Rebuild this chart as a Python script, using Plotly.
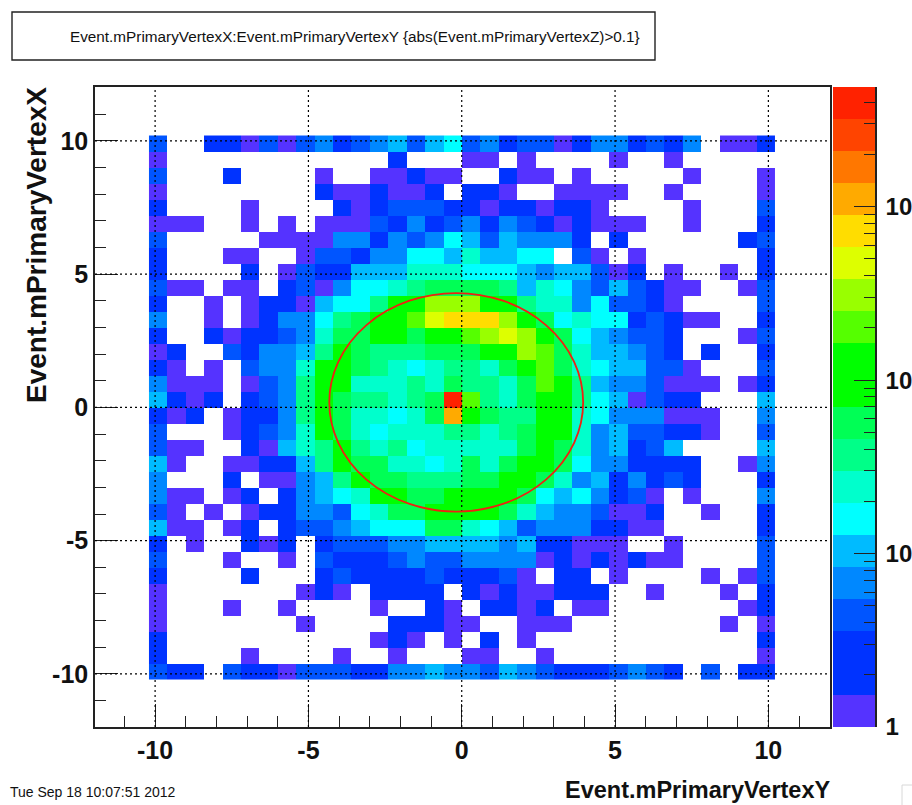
import numpy as np
import plotly.graph_objects as go

W, H = 912, 805

title_text = "Event.mPrimaryVertexX:Event.mPrimaryVertexY {abs(Event.mPrimaryVertexZ)>0.1}"
x_title = "Event.mPrimaryVertexY"
y_title = "Event.mPrimaryVertexX"
date_text = "Tue Sep 18 10:07:51 2012"

major_ticks = [-10, -5, 0, 5, 10]
major_labels = ["-10", "-5", "0", "5", "10"]
minor_ticks = [-11, -9, -8, -7, -6, -4, -3, -2, -1, 1, 2, 3, 4, 6, 7, 8, 9, 11]

bin_low, bin_width, n_bins = -10.2, 0.6, 34

# counts per cell, top row (y = +9.9) first, left column (x = -9.9) first; 0 = empty
counts = [
    [4,0,0,3,3,1,4,1,4,7,3,4,7,10,4,10,16,4,7,3,4,4,1,3,7,7,3,4,3,7,0,1,1,3],
    [1,0,0,0,0,0,0,0,0,0,0,0,0,3,0,0,0,1,1,0,1,0,0,0,0,1,0,0,1,0,0,0,0,0],
    [4,0,0,0,3,0,0,0,0,1,0,0,1,1,3,1,1,0,0,3,1,1,0,1,0,0,0,0,0,1,0,0,0,1],
    [1,0,0,0,0,0,0,0,0,3,1,1,3,1,1,3,0,3,3,1,0,0,1,1,1,1,0,0,1,0,0,0,0,1],
    [3,0,0,0,0,1,0,0,0,0,3,1,3,4,4,4,3,3,1,3,3,1,3,3,1,0,0,0,0,1,0,0,0,4],
    [1,1,1,0,0,1,0,1,0,1,1,1,4,3,7,3,4,7,3,7,4,3,1,3,1,1,1,0,0,1,0,0,0,3],
    [4,0,0,0,0,0,1,1,1,1,7,7,3,7,4,7,16,10,4,10,7,7,7,3,0,3,0,0,0,0,0,0,3,4],
    [3,0,0,0,1,1,0,0,1,4,4,3,7,7,16,16,10,25,10,10,16,16,0,4,1,0,1,0,0,0,0,0,0,3],
    [3,0,0,0,0,3,0,1,4,3,3,10,10,10,25,25,25,16,16,16,10,7,10,10,4,1,3,0,1,0,0,1,0,3],
    [4,1,1,0,1,1,0,3,4,1,7,16,16,25,38,58,58,58,58,38,10,25,16,7,4,10,4,3,1,1,0,0,1,4],
    [3,0,0,1,0,1,3,3,1,10,16,16,38,100,100,315,315,315,100,100,38,25,25,7,16,4,4,3,1,0,0,0,0,4],
    [7,0,0,1,0,1,3,7,7,16,38,58,100,100,205,480,735,735,735,315,100,58,16,25,16,16,3,4,3,1,1,0,0,3],
    [3,0,0,3,1,3,3,4,7,25,58,58,100,100,58,100,100,205,315,480,315,100,58,16,10,7,4,4,3,0,0,0,1,4],
    [1,3,0,0,4,3,7,7,10,38,100,58,38,38,38,58,58,58,100,100,315,205,58,25,10,10,7,4,3,0,3,0,0,3],
    [3,1,0,1,0,4,7,7,25,100,100,58,38,25,16,25,38,38,25,58,100,205,58,25,16,10,10,4,4,1,0,0,0,4],
    [7,1,1,1,0,1,4,7,38,100,100,25,25,25,38,25,58,38,38,25,58,205,100,38,10,7,7,4,1,1,1,0,1,3],
    [10,3,1,3,0,3,4,7,38,100,58,38,38,25,38,58,4050,205,38,25,58,100,100,38,16,10,1,4,3,3,0,0,0,10],
    [3,1,3,0,1,3,3,7,38,100,58,25,25,16,25,58,1130,100,58,38,38,100,100,25,16,7,7,7,1,1,1,0,0,7],
    [4,0,0,0,1,3,4,7,25,100,58,25,16,25,25,25,38,38,25,38,58,100,100,25,7,10,4,4,3,3,1,0,0,4],
    [4,1,1,0,0,3,1,10,25,38,100,38,25,38,16,25,25,25,25,25,58,100,58,25,7,10,3,4,10,0,0,0,0,10],
    [10,1,0,0,1,1,3,3,10,38,100,58,58,25,25,16,25,58,25,58,100,100,58,16,7,7,3,3,3,3,0,0,1,7],
    [7,0,0,0,3,0,1,1,7,10,38,100,58,58,38,38,38,58,58,100,100,58,25,7,10,3,7,3,4,3,0,0,0,3],
    [7,1,1,0,1,3,0,3,7,10,16,25,100,100,58,58,100,100,100,100,58,16,10,16,7,3,4,1,0,1,0,0,0,7],
    [4,1,0,1,0,1,3,3,7,7,4,16,25,58,58,100,100,100,100,58,25,10,7,7,4,1,1,3,0,0,1,0,0,3],
    [10,1,1,0,1,3,0,3,4,4,7,10,16,16,16,58,58,25,16,10,4,7,7,7,3,3,1,1,0,0,0,0,0,3],
    [3,0,1,0,0,3,1,3,0,3,4,4,4,7,7,10,10,10,10,7,10,3,3,1,1,1,0,0,1,0,0,0,0,4],
    [4,0,0,0,1,0,0,1,0,4,3,3,3,4,7,4,4,7,7,7,7,1,3,1,3,1,3,1,1,0,0,0,0,4],
    [3,0,0,0,0,3,0,0,0,3,4,3,3,3,3,4,3,3,3,4,1,0,3,3,0,1,0,0,0,0,1,0,1,4],
    [1,0,0,0,0,0,0,0,1,3,1,0,3,3,3,3,0,3,1,3,1,1,3,3,3,0,0,1,0,0,0,1,0,3],
    [1,0,0,0,1,0,0,1,0,0,0,0,1,0,0,3,1,0,3,3,1,3,0,1,1,0,0,0,0,0,0,0,1,3],
    [1,0,0,0,0,0,0,0,1,0,0,0,0,3,3,3,1,1,0,0,1,1,1,0,0,0,0,0,0,0,0,1,0,1],
    [3,0,0,0,0,0,0,0,0,0,0,0,1,3,1,0,1,0,3,0,1,0,0,0,0,0,0,0,0,0,0,0,0,3],
    [3,0,0,0,0,1,0,0,0,0,1,0,0,1,0,0,0,1,1,0,0,1,0,0,0,0,0,0,0,0,0,0,0,1],
    [4,3,3,0,4,3,3,1,4,4,4,3,3,7,7,10,7,7,4,10,7,4,3,3,3,4,7,4,3,0,4,0,3,3],
]
assert len(counts) == n_bins and all(len(r) == n_bins for r in counts)

band_colors = [
    "#5533ff", "#0033ff", "#0033ff", "#0055ff", "#0088ff", "#00bbff", "#00ffff",
    "#00ffcc", "#00ff88", "#00ff55", "#00ff00", "#00ff00", "#55ff00", "#99ff00",
    "#ddff00", "#ffdd00", "#ffaa00", "#ff7700", "#ff4400", "#ff2200",
]
log_max = 3.69
decades = [0, 1, 2, 3]
decade_labels = ["1", "10", "10", "10"]
minor_mult = [2, 3, 4, 5, 6, 7, 8, 9]

ellipse_center = (-0.18, 0.19)
ellipse_radius = (4.14, 4.10)

# --- derived ---
n_bands = len(band_colors)
colorscale = []
for i, c in enumerate(band_colors):
    colorscale += [[i / n_bands, c], [(i + 1) / n_bands, c]]

edges = [bin_low + bin_width * i for i in range(n_bins + 1)]
z = np.array(counts, dtype=float)
z[z == 0] = np.nan
z = np.log10(z)[::-1]

band_edges = [log_max * i / n_bands for i in range(n_bands + 1)]
band_mid = [[(band_edges[i] + band_edges[i + 1]) / 2] for i in range(n_bands)]
cb_minor = [d + np.log10(m) for d in decades for m in minor_mult
            if d + np.log10(m) < log_max]

L, R, T, B = 95, 830, 87, 727
CL, CR = 833, 875
AXC = "#222222"
FONT = "Liberation Sans"

def px(v): return v / W
def py(v): return 1 - v / H

fig = go.Figure()
fig.add_trace(go.Heatmap(
    x=edges, y=edges, z=z, zmin=0, zmax=log_max, colorscale=colorscale,
    showscale=False, xaxis="x", yaxis="y", hoverongaps=False, hoverinfo="skip"))
fig.add_trace(go.Heatmap(
    x=[0, 1], y=band_edges, z=band_mid, zmin=0, zmax=log_max, colorscale=colorscale,
    showscale=False, xaxis="x2", yaxis="y2", hoverinfo="skip"))

shapes = []
grid = dict(color="black", width=1.2, dash="2px,3px")
for t in major_ticks:
    shapes.append(dict(type="line", xref="x", yref="paper", x0=t, x1=t,
                       y0=py(B), y1=py(T), line=grid, layer="above"))
    shapes.append(dict(type="line", xref="paper", yref="y", x0=px(L), x1=px(R),
                       y0=t, y1=t, line=grid, layer="above"))
shapes.append(dict(type="circle", xref="x", yref="y",
                   x0=ellipse_center[0] - ellipse_radius[0],
                   x1=ellipse_center[0] + ellipse_radius[0],
                   y0=ellipse_center[1] - ellipse_radius[1],
                   y1=ellipse_center[1] + ellipse_radius[1],
                   line=dict(color="#ee2211", width=1.8), layer="above"))
# title box
shapes.append(dict(type="rect", xref="paper", yref="paper",
                   x0=px(12), x1=px(655), y0=py(60), y1=py(12),
                   line=dict(color="#222222", width=1.4)))
# resize grip in the corner
shapes.append(dict(type="rect", xref="paper", yref="paper",
                   x0=px(902), x1=px(914), y0=py(807), y1=py(785),
                   line=dict(color="#d8d8d8", width=1)))

def axis_common(**kw):
    d = dict(showgrid=False, zeroline=False, showline=True, linecolor=AXC, linewidth=1.5,
             ticks="inside", tickcolor=AXC, tickwidth=1)
    d.update(kw)
    return d

tickfont = dict(family=FONT, size=25, color="#111111", weight="bold")
cbfont = dict(family=FONT, size=24, color="#111111", weight="bold")
minor = dict(tickmode="array", tickvals=minor_ticks, ticks="inside", ticklen=11,
             tickcolor=AXC, tickwidth=1, showgrid=False)

fig.update_layout(
    width=W, height=H, margin=dict(l=0, r=0, t=0, b=0),
    paper_bgcolor="white", plot_bgcolor="white", showlegend=False, shapes=shapes,
    xaxis=axis_common(domain=[px(L), px(R)], range=[-11.96, 12.01], anchor="y",
                      mirror=True, tickmode="array", tickvals=major_ticks,
                      ticktext=major_labels,
                      ticklen=23, tickfont=tickfont, minor=minor, automargin=False),
    yaxis=axis_common(domain=[py(B), py(T)], range=[-11.99, 12.02], anchor="x",
                      mirror=True, tickmode="array", tickvals=major_ticks,
                      ticktext=major_labels,
                      ticklen=23, tickfont=tickfont, minor=minor, automargin=False),
    xaxis2=dict(domain=[px(CL), px(CR)], range=[0, 1], anchor="y2", showgrid=False,
                zeroline=False, showticklabels=False, ticks="", showline=False),
    yaxis2=axis_common(domain=[py(B), py(T)], range=[0, log_max], anchor="x2", side="right",
                       tickmode="array", tickvals=decades, ticktext=decade_labels,
                       ticklen=21, tickfont=cbfont, automargin=False, ticklabelstandoff=4,
                       minor=dict(tickmode="array", tickvals=cb_minor, ticks="inside",
                                  ticklen=11, tickcolor=AXC, tickwidth=1, showgrid=False)),
    annotations=[
        dict(text=title_text, xref="paper", yref="paper", x=px(355), y=py(36),
             xanchor="center", yanchor="middle", showarrow=False,
             font=dict(family=FONT, size=15.3, color="#111111")),
        dict(text=date_text, xref="paper", yref="paper", x=px(8), y=py(792),
             xanchor="left", yanchor="middle", showarrow=False,
             font=dict(family=FONT, size=14, color="#111111")),
        dict(text=x_title, xref="paper", yref="paper", x=px(833), y=py(790),
             xanchor="right", yanchor="middle", showarrow=False,
             font=dict(family=FONT, size=23.5, color="#111111", weight="bold")),
        dict(text=y_title, xref="paper", yref="paper", x=px(36), y=py(85),
             xanchor="center", yanchor="top", showarrow=False, textangle=-90,
             font=dict(family=FONT, size=28, color="#111111", weight="bold")),
    ],
)
fig.write_html("out.html", config={"displayModeBar": False},
               post_script="document.body.style.margin='0';")
